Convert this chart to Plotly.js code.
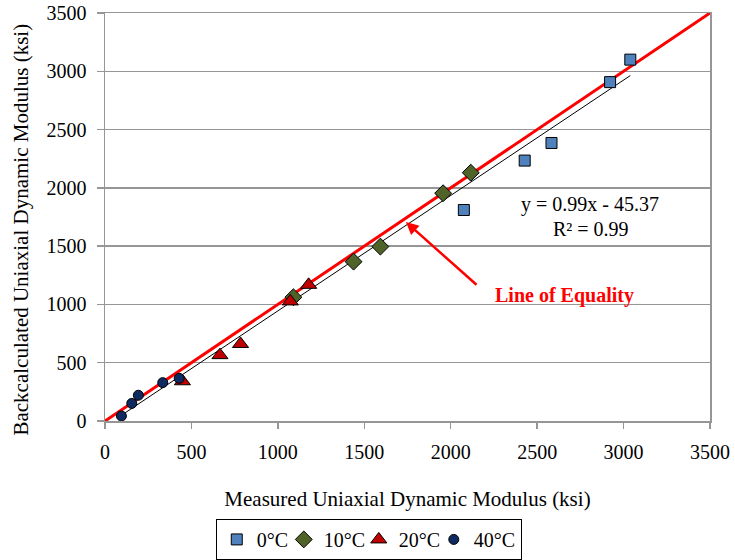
<!DOCTYPE html>
<html>
<head>
<meta charset="utf-8">
<script src="https://cdn.plot.ly/plotly-3.0.1.min.js"></script>
<style>html,body{margin:0;padding:0;background:#fff;}#chart{width:735px;height:560px;}</style>
</head>
<body>
<div id="chart"></div>
<script>
// Data (ksi)
const seriesNames = ['0°C', '10°C', '20°C', '40°C'];
const x0C = [2076, 2428, 2583, 2922, 3039];
const y0C = [1810, 2234, 2385, 2907, 3100];
const x10C = [1090, 1438, 1593, 1956, 2116];
const y10C = [1062, 1367, 1496, 1954, 2130];
const x20C = [448, 665, 784, 1072, 1178];
const y20C = [341, 565, 661, 1026, 1168];
const x40C = [95, 155, 193, 334, 429];
const y40C = [43, 151, 221, 329, 366];
const equalityX = [0, 3500];
const equalityY = [0, 3500];
const trendSlope = 0.99;
const trendIntercept = -45.37;
const trendX = [95, 3039];
const trendY = trendX.map(v => trendSlope * v + trendIntercept);
const tickVals = [0, 500, 1000, 1500, 2000, 2500, 3000, 3500];
const tickText = ['0', '500', '1000', '1500', '2000', '2500', '3000', '3500'];

const serif = 'Liberation Serif, Times New Roman, serif';
const gridGray = '#969696';

const traces = [
  {x: equalityX, y: equalityY, mode: 'lines', line: {color: '#ff0000', width: 3}, showlegend: false, hoverinfo: 'skip'},
  {x: trendX, y: trendY, mode: 'lines', line: {color: '#000000', width: 1}, showlegend: false, hoverinfo: 'skip'},
  {x: x0C, y: y0C, name: seriesNames[0], mode: 'markers', type: 'scatter', legendwidth: 22,
   marker: {symbol: 'square', size: 11, color: '#4f81bd', line: {color: '#000', width: 1}}},
  {x: x10C, y: y10C, name: seriesNames[1], mode: 'markers', type: 'scatter', legendwidth: 30,
   marker: {symbol: 'diamond', size: 13, color: '#4f6228', line: {color: '#000', width: 1}}},
  {x: x20C, y: y20C, name: seriesNames[2], mode: 'markers', type: 'scatter', legendwidth: 30,
   marker: {symbol: 'triangle-up', size: 14, color: '#c00000', line: {color: '#000', width: 1}}},
  {x: x40C, y: y40C, name: seriesNames[3], mode: 'markers', type: 'scatter',
   marker: {symbol: 'circle', size: 10, color: '#0f2a60', line: {color: '#000', width: 1}}}
];

const layout = {
  width: 735, height: 560,
  margin: {l: 105, r: 25, t: 13, b: 139, autoexpand: false},
  paper_bgcolor: '#fff', plot_bgcolor: '#fff',
  font: {family: serif, size: 20, color: '#000'},
  showlegend: true,
  legend: {
    orientation: 'h', x: 0.436, xanchor: 'center', y: -0.24, yanchor: 'top',
    bordercolor: '#000', borderwidth: 1, font: {family: serif, size: 20, color: '#000'},
    itemwidth: 30
  },
  xaxis: {
    range: [0, 3500], tickvals: tickVals, ticktext: tickText,
    showgrid: false, zeroline: false, showline: true, mirror: true,
    linecolor: gridGray, linewidth: 1.5,
    ticks: 'outside', ticklen: 6, tickwidth: 1.5, tickcolor: gridGray,
    ticklabelstandoff: 6,
    tickfont: {family: serif, size: 20, color: '#000'},
    title: {text: 'Measured Uniaxial Dynamic Modulus (ksi)', font: {family: serif, size: 21, color: '#000'}, standoff: 30}
  },
  yaxis: {
    range: [0, 3500], tickvals: tickVals, ticktext: tickText,
    showgrid: true, gridcolor: gridGray, gridwidth: 1.5,
    zeroline: false, showline: true, mirror: true,
    linecolor: gridGray, linewidth: 1.5,
    ticks: 'outside', ticklen: 7, tickwidth: 1.5, tickcolor: gridGray,
    ticklabelstandoff: 6,
    tickfont: {family: serif, size: 20, color: '#000'}
  },
  annotations: [
    {xref: 'paper', yref: 'paper', x: -0.139, y: 0.469, text: 'Backcalculated Uniaxial Dynamic Modulus (ksi)',
     textangle: -90, showarrow: false, font: {family: serif, size: 21, color: '#000'}, xanchor: 'center', yanchor: 'middle'},
    {x: 2806, y: 1853, xref: 'x', yref: 'y', text: 'y = 0.99x - 45.37', showarrow: false,
     font: {family: serif, size: 20, color: '#000'}},
    {x: 2809, y: 1647, xref: 'x', yref: 'y', text: 'R² = 0.99', showarrow: false,
     font: {family: serif, size: 20, color: '#000'}},
    {x: 2661, y: 1080, xref: 'x', yref: 'y', text: '<b>Line of Equality</b>', showarrow: false,
     font: {family: serif, size: 20, color: '#ff0000'}},
    {x: 1741, y: 1707, xref: 'x', yref: 'y', ax: 2158, ay: 1157, axref: 'x', ayref: 'y',
     text: '', showarrow: true, arrowhead: 2, arrowsize: 1, arrowwidth: 2.5, arrowcolor: '#ff0000'}
  ]
};

Plotly.newPlot('chart', traces, layout, {displayModeBar: false, staticPlot: true});
</script>
</body>
</html>
